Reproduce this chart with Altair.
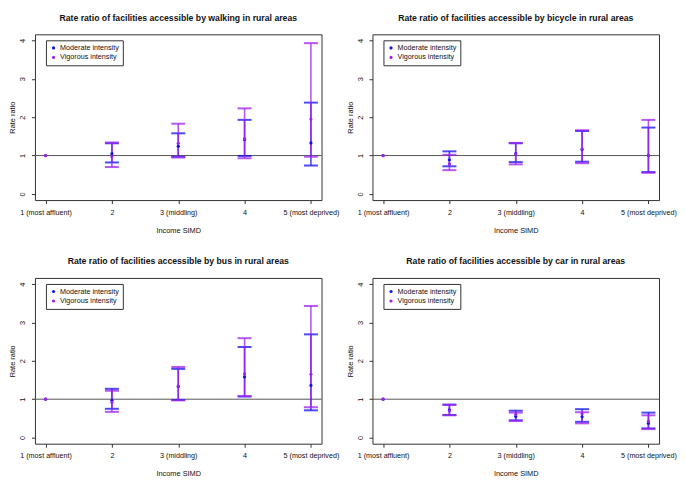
import altair as alt
import pandas as pd

# ---------------- data ----------------
categories = ["1 (most affluent)", "2", "3 (middling)", "4", "5 (most deprived)"]
cat_pos = [1, 2, 3, 4, 5]
series = ["Moderate intensity", "Vigorous intensity"]
series_colors = ["#1010f0", "#a020f0"]

titles = [
    "Rate ratio of facilities accessible by walking in rural areas",
    "Rate ratio of facilities accessible by bicycle in rural areas",
    "Rate ratio of facilities accessible by bus in rural areas",
    "Rate ratio of facilities accessible by car in rural areas",
]

# walking
walk_mod_est = [1.00, 1.05, 1.24, 1.42, 1.33]
walk_mod_lo = [None, 0.82, 0.97, 0.99, 0.74]
walk_mod_hi = [None, 1.32, 1.58, 1.93, 2.38]
walk_vig_est = [1.00, 0.97, 1.32, 1.44, 1.95]
walk_vig_lo = [None, 0.70, 0.95, 0.93, 0.97]
walk_vig_hi = [None, 1.34, 1.83, 2.23, 3.93]

# bicycle
bike_mod_est = [1.00, 0.89, 1.05, 1.16, 1.00]
bike_mod_lo = [None, 0.72, 0.83, 0.84, 0.57]
bike_mod_hi = [None, 1.11, 1.32, 1.64, 1.73]
bike_vig_est = [1.00, 0.78, 1.04, 1.17, 1.01]
bike_vig_lo = [None, 0.62, 0.77, 0.80, 0.55]
bike_vig_hi = [None, 1.02, 1.33, 1.66, 1.93]

# bus
bus_mod_est = [1.00, 0.97, 1.33, 1.58, 1.36]
bus_mod_lo = [None, 0.75, 0.98, 1.07, 0.71]
bus_mod_hi = [None, 1.27, 1.79, 2.36, 2.69]
bus_vig_est = [1.00, 0.92, 1.34, 1.66, 1.65]
bus_vig_lo = [None, 0.67, 0.97, 1.08, 0.79]
bus_vig_hi = [None, 1.22, 1.84, 2.59, 3.43]

# car
car_mod_est = [1.00, 0.72, 0.55, 0.54, 0.37]
car_mod_lo = [None, 0.59, 0.45, 0.41, 0.24]
car_mod_hi = [None, 0.86, 0.70, 0.74, 0.65]
car_vig_est = [1.00, 0.70, 0.60, 0.62, 0.42]
car_vig_lo = [None, 0.58, 0.43, 0.37, 0.22]
car_vig_hi = [None, 0.85, 0.65, 0.66, 0.58]

y_ticks = [0, 1, 2, 3, 4]
ref_value = [1]

FONT = "Liberation Sans"
FS = 7.4
XFS = 7.2
PW = 287


def build_df(mod_est, mod_lo, mod_hi, vig_est, vig_lo, vig_hi):
    rows = []
    for s, (e, lo, hi) in zip(series, [(mod_est, mod_lo, mod_hi), (vig_est, vig_lo, vig_hi)]):
        for i, p in enumerate(cat_pos):
            rows.append({"pos": p, "series": s, "est": e[i], "lo": lo[i], "hi": hi[i]})
    return pd.DataFrame(rows)


label_map = "{" + ",".join(f"'{p}':'{c}'" for p, c in zip(cat_pos, categories)) + "}"
label_expr = f"{label_map}[datum.value]"


def panel(title, df):
    xscale = alt.Scale(domain=[0.84, 5.16], nice=False, zero=False)
    yscale = alt.Scale(domain=[-0.16, 4.16], nice=False, zero=False)
    xaxis = alt.Axis(values=cat_pos, labelExpr=label_expr, title="Income SIMD", grid=False,
                     domain=False, tickSize=3.5, tickColor="#333", labelFontSize=XFS, labelFont=FONT,
                     labelColor="#111", labelPadding=4.5, titleFontSize=FS, titleFont=FONT,
                     titleFontWeight="normal", titleColor="#111", titlePadding=11,
                     labelFlush=False, labelOverlap=False)
    yaxis = alt.Axis(values=y_ticks, title="Rate ratio", grid=False, domain=False, tickSize=3.5,
                     tickColor="#333", labelFontSize=FS, labelFont=FONT, labelColor="#111",
                     labelAngle=-90, labelAlign="center", labelBaseline="bottom", labelPadding=4.5,
                     titleFontSize=FS, titleFont=FONT, titleFontWeight="normal", titleColor="#111",
                     titlePadding=2)
    color_lg = alt.Color("series:N", scale=alt.Scale(domain=series, range=series_colors),
                         legend=alt.Legend(title=None, orient="none", legendX=11, legendY=6,
                                           strokeColor="#333", fillColor="white", padding=4,
                                           labelFontSize=7.2, labelFont=FONT, labelColor="#111",
                                           symbolSize=10, symbolType="circle", rowPadding=1.5,
                                           labelOffset=3, cornerRadius=0, symbolStrokeWidth=0,
                                           symbolOpacity=1))
    X = alt.X("pos:Q", scale=xscale, axis=xaxis)
    base = alt.Chart(df)
    layers = [alt.Chart(pd.DataFrame({"v": ref_value})).mark_rule(color="#555", strokeWidth=1).encode(
        y=alt.Y("v:Q", scale=yscale, axis=yaxis))]
    for s, col in zip(series, series_colors):
        valid = base.transform_filter(f"isValid(datum.lo) && datum.series == '{s}'")
        layers.append(valid.mark_rule(strokeWidth=1.6, opacity=0.75, color=col).encode(
            x=X, y=alt.Y("lo:Q", scale=yscale, axis=yaxis), y2="hi:Q"))
        layers.append(valid.mark_tick(orient="horizontal", size=14, thickness=2, opacity=0.75, color=col).encode(
            x=X, y=alt.Y("lo:Q", scale=yscale, axis=yaxis)))
        layers.append(valid.mark_tick(orient="horizontal", size=14, thickness=2, opacity=0.75, color=col).encode(
            x=X, y=alt.Y("hi:Q", scale=yscale, axis=yaxis)))
    layers.append(base.mark_circle(size=10, opacity=1).encode(
        x=X, y=alt.Y("est:Q", scale=yscale, axis=yaxis), color=color_lg))
    return alt.layer(*layers).properties(
        width=PW, height=166,
        title=alt.TitleParams(title, frame="group", anchor="middle", fontSize=8.7, font=FONT,
                              fontWeight="bold", color="#111", offset=12))


p1 = panel(titles[0], build_df(walk_mod_est, walk_mod_lo, walk_mod_hi, walk_vig_est, walk_vig_lo, walk_vig_hi))
p2 = panel(titles[1], build_df(bike_mod_est, bike_mod_lo, bike_mod_hi, bike_vig_est, bike_vig_lo, bike_vig_hi))
p3 = panel(titles[2], build_df(bus_mod_est, bus_mod_lo, bus_mod_hi, bus_vig_est, bus_vig_lo, bus_vig_hi))
p4 = panel(titles[3], build_df(car_mod_est, car_mod_lo, car_mod_hi, car_vig_est, car_vig_lo, car_vig_hi))

chart = alt.concat(p1, p2, p3, p4, columns=2, spacing={"row": 78, "column": 51}, bounds="flush").resolve_legend(
    color="independent").resolve_scale(color="independent").properties(
    padding={"left": 0, "top": 4, "right": 0, "bottom": 0}, background="white"
).configure_view(stroke="#333", strokeWidth=1)

chart.save("out.html", embed_options={"renderer": "svg", "actions": False})
